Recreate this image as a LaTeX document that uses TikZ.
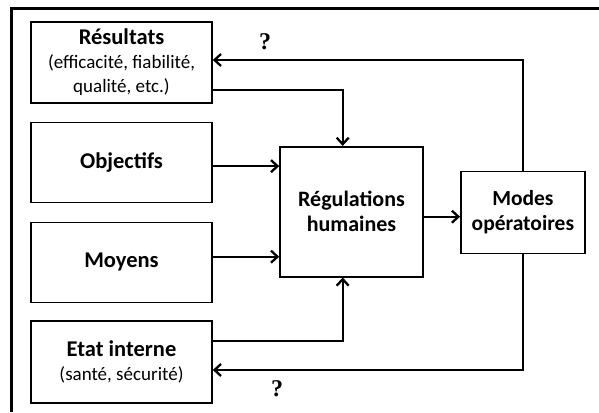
\documentclass[tikz,border=0pt]{standalone}
\usepackage{fontspec}
\setmainfont{Carlito}
\newfontfamily\qfont{Liberation Serif}
\usetikzlibrary{arrows.meta,calc}
\newcommand{\ttl}[1]{{\fontsize{22.5}{24}\selectfont\bfseries #1}}
\tikzset{
  box/.style={draw, line width=1.6pt, rectangle, align=center, inner sep=0pt, font=\fontsize{19}{24}\selectfont},
  bigbox/.style={box, font=\bfseries\fontsize{22}{25}\selectfont},
  arr/.style={line width=2.3pt, -{Straight Barb[length=6.5pt,width=12pt,line width=2.3pt]}},
  qm/.style={font=\qfont\bfseries\fontsize{24}{24}\selectfont, inner sep=0pt}
}
\begin{document}
\begin{tikzpicture}[x=1pt,y=-1pt]
\useasboundingbox (0,0) rectangle (599,412);
\fill[white] (0,0) rectangle (599,412);
\coordinate (fbl) at (11.5,412);
\coordinate (ftl) at (11.5,8.5);
\coordinate (ftr) at (599,8.5);
\draw[line width=2.2pt] (fbl) -- (ftl) -- (ftr);

\node[box, minimum width=181pt, minimum height=81pt] (res) at (121.5,62.5)
  {\ttl{Résultats}\\(efficacité, fiabilité,\\qualité, etc.)};
\node[box, minimum width=181pt, minimum height=80pt] (obj) at (121.5,162.6) {\ttl{Objectifs}};
\node[box, minimum width=181pt, minimum height=80pt] (moy) at (121.5,262.3) {\ttl{Moyens}};
\node[box, minimum width=181pt, minimum height=82pt] (eta) at (121.5,362)
  {\ttl{Etat interne}\\(santé, sécurité)};
\node[bigbox, minimum width=143pt, minimum height=130pt] (reg) at (351.5,211.7)
  {Régulations\\humaines};
\node[bigbox, minimum width=124pt, minimum height=82pt, font=\bfseries\fontsize{21.5}{25}\selectfont] (mod) at (522.9,212.5)
  {Modes\\opératoires};

\draw[arr] (mod.north) |- ([yshift=2.5pt]res.east);
\draw[arr] ([yshift=-27.5pt]res.east) -| ([xshift=-8.8pt]reg.north);
\draw[arr] ([yshift=-3.5pt]obj.east) -- ([yshift=-3.5pt]obj.east -| reg.west);
\draw[arr] ([yshift=5.6pt]moy.east) -- ([yshift=5.6pt]moy.east -| reg.west);
\draw[arr] ([yshift=-5pt]reg.east) -- ([yshift=-5pt]reg.east -| mod.west);
\draw[arr] ([yshift=21.3pt]eta.east) -| ([xshift=-8.8pt]reg.south);
\draw[arr] (mod.south) |- ([yshift=-8pt]eta.east);

\node[qm] (q1) at (265,42) {?};
\node[qm] (q2) at (277,388.5) {?};
\end{tikzpicture}
\end{document}
